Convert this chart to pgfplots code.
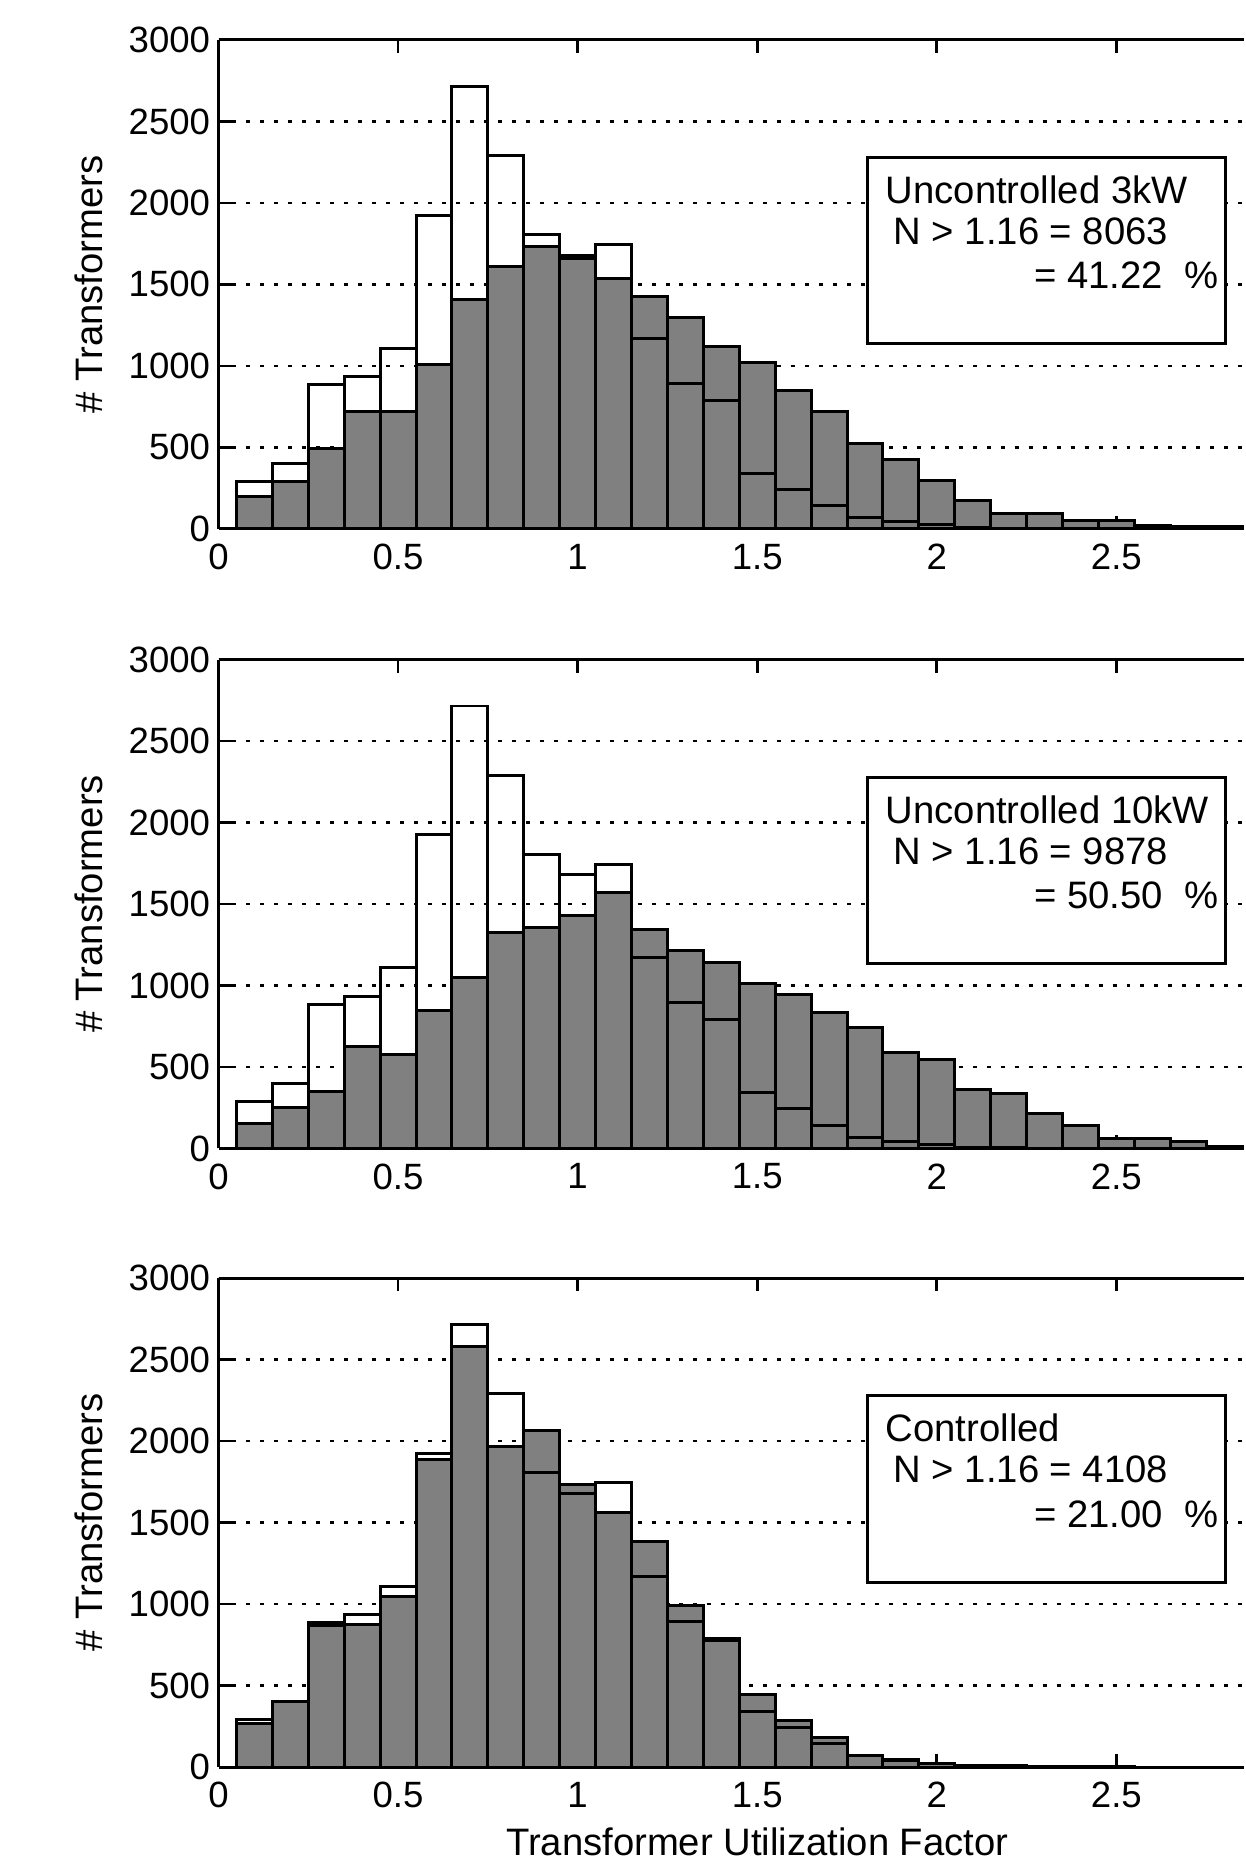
\documentclass[border=0pt]{standalone}
\usepackage{fontspec}
\setmainfont{Liberation Sans}
\usepackage{pgfplots}
\usepackage{pgfplotstable}
\pgfplotsset{compat=1.18}

\definecolor{histgray}{RGB}{128,128,128}

% bin centre, reference histogram (outline), and the three filled histograms
\pgfplotstableread{
x   base  p1    p2    p3
0.1 290   198   152   265
0.2 400   292   253   400
0.3 885   490   350   870
0.4 935   717   627   877
0.5 1108  717   576   1048
0.6 1925  1011  847   1890
0.7 2715  1408  1049  2583
0.8 2290  1611  1324  1967
0.9 1805  1733  1353  2067
1.0 1680  1658  1428  1735
1.1 1745  1534  1573  1564
1.2 1170  1423  1346  1386
1.3 893   1298  1214  990
1.4 790   1121  1142  775
1.5 341   1022  1012  446
1.6 243   850   944   284
1.7 142   722   836   180
1.8 70    526   741   73
1.9 45    425   587   43
2.0 24    295   543   24
2.1 8     172   361   12
2.2 3     97    339   8
2.3 1     97    213   6
2.4 0     50    141   4
2.5 0     50    64    2
2.6 0     20    64    0
2.7 0     15    42    0
2.8 0     12    15    0
}\hist

\newcommand{\lblfont}{\fontsize{11.5}{14}\selectfont}

\pgfplotsset{
  panel/.style={
    scale only axis, width=308.4pt, height=147pt,
    anchor=north west,
    xmin=0, xmax=2.856, ymin=0, ymax=3000,
    axis x line*=box, axis y line*=left,
    xtick={0,0.5,1,1.5,2,2.5},
    ytick={0,500,1000,1500,2000,2500,3000},
    ymajorgrids,
    major grid style={black, line width=0.8pt, dash pattern=on 1.2pt off 3pt},
    axis line style={line width=0.9pt, -},
    tick style={black, line width=0.8pt},
    major tick length=4pt,
    tick align=inside,
    /pgf/number format/assume math mode=true,
    /pgf/number format/1000 sep={},
    scaled y ticks=false,
    tick label style={font=\fontsize{11}{13}\selectfont},
    xticklabel style={yshift=-1pt},
    yticklabel style={xshift=1pt},
    ylabel={\# Transformers},
    ylabel style={font=\lblfont, at={(axis description cs:-0.1265,0.5)}, anchor=center},
  },
  gray bars/.style={ybar, bar width=0.1, bar shift=0pt, fill=histgray, draw=black, line width=0.9pt},
  base bars/.style={ybar, bar width=0.1, bar shift=0pt, fill=none, draw=black, line width=0.9pt},
}

% text box with the exceedance count
\newcommand{\infobox}[3]{%
  \draw[line width=0.9pt, fill=white] (axis cs:1.808,2278) rectangle (axis cs:2.803,1135);
  \node[anchor=base west, inner sep=0pt, font=\lblfont] at (axis cs:1.856,1995) {#1};
  \node[anchor=base west, inner sep=0pt, font=\lblfont] at (axis cs:1.878,1745) {#2};
  \node[anchor=base east, inner sep=0pt, font=\lblfont] at (axis cs:2.786,1472) {#3};
}

\begin{document}
\begin{tikzpicture}
% page frame
\path (0,0) rectangle (374.1pt,-560.1pt);

\begin{axis}[panel, at={(65.7pt,-12pt)}]
  \addplot[gray bars] table[x=x, y=p1] {\hist};
  \addplot[base bars] table[x=x, y=base] {\hist};
  \infobox{Uncontrolled 3kW}{N > 1.16 = 8063}{= 41.22\ \ \%}
\end{axis}

\begin{axis}[panel, at={(65.7pt,-198.3pt)}]
  \addplot[gray bars] table[x=x, y=p2] {\hist};
  \addplot[base bars] table[x=x, y=base] {\hist};
  \infobox{Uncontrolled 10kW}{N > 1.16 = 9878}{= 50.50\ \ \%}
\end{axis}

\begin{axis}[panel, at={(65.7pt,-384.3pt)},
  xlabel={Transformer Utilization Factor},
  xlabel style={font=\lblfont, at={(axis description cs:0.5252,-0.153)}, anchor=center}]
  \addplot[gray bars] table[x=x, y=p3] {\hist};
  \addplot[base bars] table[x=x, y=base] {\hist};
  \infobox{Controlled}{N > 1.16 = 4108}{= 21.00\ \ \%}
\end{axis}
\end{tikzpicture}
\end{document}
